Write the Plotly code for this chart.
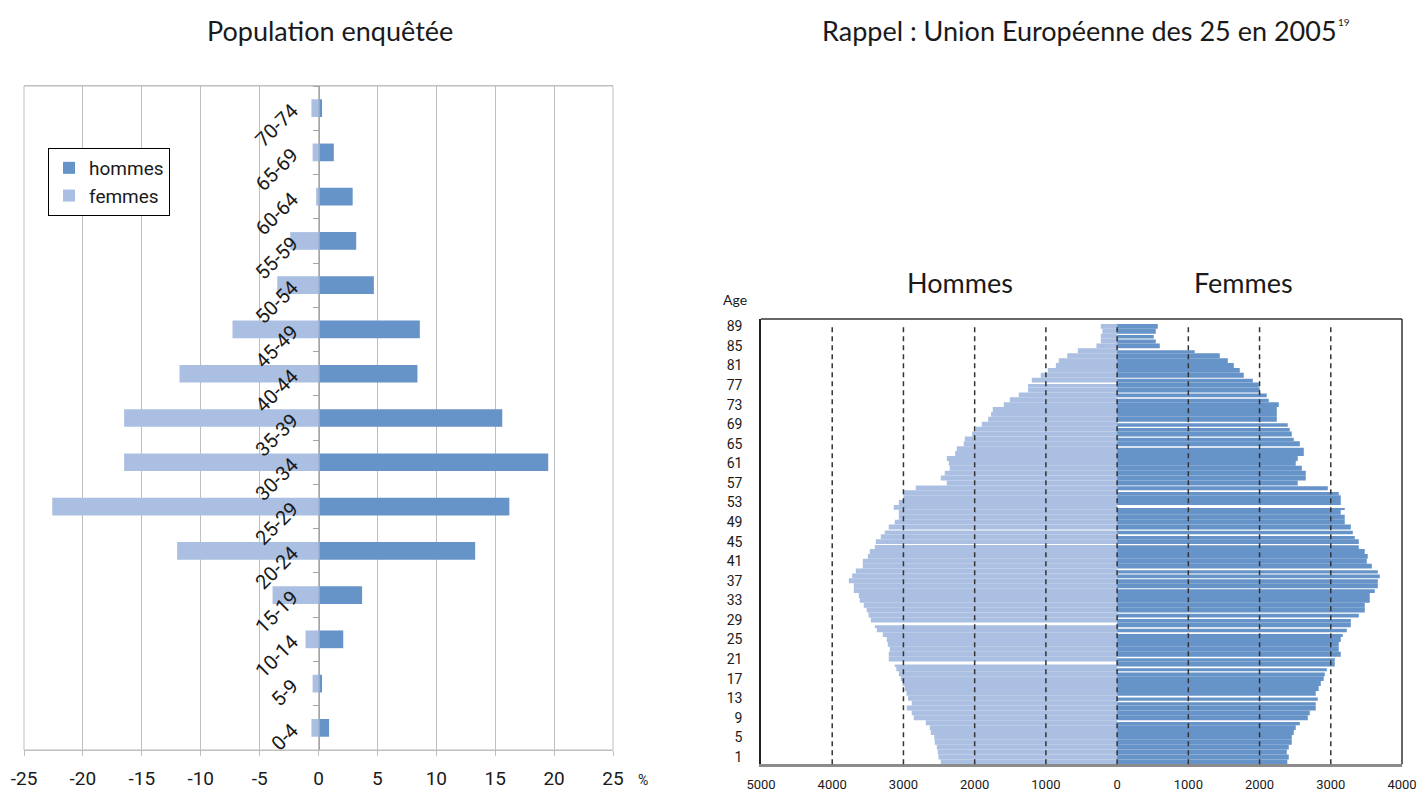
import plotly.graph_objects as go

W, H = 1420, 791

# ---------------------------------------------------------------------------
# Population enquêtée : share of respondents (%) by five-year age group
# ---------------------------------------------------------------------------
age_groups = ["0-4", "5-9", "10-14", "15-19", "20-24", "25-29", "30-34",
              "35-39", "40-44", "45-49", "50-54", "55-59", "60-64", "65-69", "70-74"]
hommes_pct = [0.9, 0.3, 2.1, 3.7, 13.3, 16.2, 19.5, 15.6, 8.4, 8.6, 4.7, 3.2, 2.9, 1.3, 0.3]
femmes_pct = [0.6, 0.5, 1.1, 3.9, 12.0, 22.6, 16.5, 16.5, 11.8, 7.3, 3.5, 2.4, 0.2, 0.5, 0.6]
pct_ticks = [-25, -20, -15, -10, -5, 0, 5, 10, 15, 20, 25]

# ---------------------------------------------------------------------------
# Union Européenne des 25 en 2005 : population (thousands) by single year of age
# ---------------------------------------------------------------------------
ages = list(range(90))
hommes_ue = [
    2476, 2508, 2518, 2532, 2560, 2567, 2616, 2630, 2686, 2855,   # 0-9
    2883, 2953, 2883, 2934, 2958, 2981, 3014, 3037, 3065, 3100,   # 10-19
    3122, 3206, 3206, 3192, 3220, 3234, 3290, 3374, 3402, 3458,   # 20-29
    3490, 3515, 3557, 3613, 3627, 3697, 3697, 3767, 3720, 3669,   # 30-39
    3571, 3571, 3500, 3473, 3402, 3388, 3318, 3262, 3206, 3122,   # 40-49
    3065, 3065, 3136, 3065, 3000, 3000, 2827, 2391, 2476, 2420,   # 50-59
    2350, 2363, 2391, 2274, 2251, 2153, 2139, 2036, 1984, 1900,   # 60-69
    1811, 1770, 1746, 1591, 1507, 1381, 1250, 1250, 1198, 1072,   # 70-79
    973, 860, 819, 700, 552, 290, 229, 229, 206, 229,             # 80-89
]
femmes_ue = [
    2390, 2410, 2382, 2410, 2452, 2452, 2480, 2508, 2565, 2677,   # 0-9
    2705, 2789, 2789, 2817, 2789, 2830, 2860, 2900, 2916, 2944,   # 10-19
    3056, 3056, 3140, 3112, 3112, 3140, 3168, 3225, 3281, 3281,   # 20-29
    3393, 3477, 3477, 3547, 3547, 3618, 3660, 3660, 3688, 3660,   # 30-39
    3576, 3505, 3519, 3477, 3393, 3393, 3337, 3309, 3281, 3196,   # 40-49
    3196, 3140, 3196, 3140, 3140, 3112, 2958, 2536, 2649, 2649,   # 50-59
    2593, 2508, 2536, 2621, 2621, 2565, 2480, 2452, 2424, 2396,   # 60-69
    2242, 2242, 2242, 2270, 2129, 2101, 2003, 1989, 1905, 1778,   # 70-79
    1722, 1638, 1554, 1441, 1090, 599, 543, 515, 543, 571,        # 80-89
]
# thin white seams printed between some single-year bars (age -> fraction of the row left blank on top)
hommes_seams = {77: 0.3, 47: 0.2, 44: 0.2, 28: 0.6, 20: 0.6}
femmes_seams = {87: 0.25, 86: 0.2, 84: 0.4, 78: 0.2, 75: 0.2, 74: 0.3, 69: 0.3, 68: 0.3,
                66: 0.25, 64: 0.3, 56: 0.2, 55: 0.35, 52: 0.6, 47: 0.25, 46: 0.35, 44: 0.25,
                39: 0.35, 38: 0.2, 37: 0.2, 35: 0.25, 30: 0.25, 29: 0.3, 27: 0.3, 26: 0.35,
                21: 0.35, 19: 0.35, 18: 0.25, 13: 0.35, 12: 0.3, 8: 0.35}
age_ticks = list(range(1, 90, 4))
ue_ticks = [-5000, -4000, -3000, -2000, -1000, 0, 1000, 2000, 3000, 4000]
ue_grid = [-4000, -3000, -2000, -1000, 0, 1000, 2000, 3000]

DARK = "#6693C8"
LIGHT = "#AABFE1"
GRID = "#BFBFBF"
TXT = "#1a1a1a"
NUM_FONT = "Roboto"
TITLE_FONT = "Lato"


def px_x(p):
    return p / W


def px_y(p):
    return 1 - p / H


fig = go.Figure()

# left pyramid
fig.add_trace(go.Bar(
    y=age_groups, x=hommes_pct, orientation="h", name="hommes",
    marker=dict(color=DARK, line=dict(width=0)), width=0.4,
    xaxis="x", yaxis="y"))
fig.add_trace(go.Bar(
    y=age_groups, x=[-v for v in femmes_pct], orientation="h", name="femmes",
    marker=dict(color=LIGHT, line=dict(width=0)), width=0.4,
    xaxis="x", yaxis="y"))

# right pyramid
fig.add_trace(go.Bar(
    y=ages, x=[-v for v in hommes_ue], orientation="h", showlegend=False,
    width=[1 - hommes_seams.get(a, 0) for a in ages], offset=-0.5,
    marker=dict(color=LIGHT, line=dict(width=0)),
    xaxis="x2", yaxis="y2"))
fig.add_trace(go.Bar(
    y=ages, x=femmes_ue, orientation="h", showlegend=False,
    width=[1 - femmes_seams.get(a, 0) for a in ages], offset=-0.5,
    marker=dict(color=DARK, line=dict(width=0)),
    xaxis="x2", yaxis="y2"))

left_dom = [px_x(24), px_x(613)]
right_dom = [px_x(761), px_x(1402)]

shapes = []
# frame of the left chart
shapes.append(dict(type="rect", xref="x domain", yref="y domain", x0=0, x1=1, y0=0, y1=1,
                   line=dict(color=GRID, width=1), layer="below"))
# dashed vertical guides on the right chart, drawn over the bars
for g in ue_grid:
    shapes.append(dict(type="line", xref="x2", yref="y2 domain", x0=g, x1=g, y0=0, y1=0.99,
                       line=dict(color="#333333", width=1.5, dash="5px,4px"), layer="above"))
# frame of the right chart (top and right sides)
shapes.append(dict(type="line", xref="x2 domain", yref="y2 domain", x0=0, x1=1, y0=1, y1=1,
                   line=dict(color="#333333", width=1.5), layer="above"))
shapes.append(dict(type="line", xref="x2 domain", yref="y2 domain", x0=1, x1=1, y0=0, y1=1,
                   line=dict(color="#333333", width=1.5), layer="above"))

annotations = [
    dict(text="Population enquêtée", x=px_x(330), y=px_y(30), xref="paper", yref="paper",
         showarrow=False, xanchor="center", yanchor="middle",
         font=dict(family=TITLE_FONT, size=27, color=TXT)),
    dict(text="Rappel : Union Européenne des 25 en 2005", x=px_x(820), y=px_y(30),
         xref="paper", yref="paper", showarrow=False, xanchor="left", yanchor="middle",
         font=dict(family=TITLE_FONT, size=27, color=TXT)),
    dict(text="19", x=px_x(1336), y=px_y(22), xref="paper", yref="paper",
         showarrow=False, xanchor="left", yanchor="middle",
         font=dict(family=TITLE_FONT, size=10, color=TXT)),
    dict(text="Hommes", x=px_x(960), y=px_y(283), xref="paper", yref="paper",
         showarrow=False, xanchor="center", yanchor="middle",
         font=dict(family=TITLE_FONT, size=27, color=TXT)),
    dict(text="Femmes", x=px_x(1243), y=px_y(283), xref="paper", yref="paper",
         showarrow=False, xanchor="center", yanchor="middle",
         font=dict(family=TITLE_FONT, size=27, color=TXT)),
    dict(text="Age", x=px_x(735), y=px_y(299), xref="paper", yref="paper",
         showarrow=False, xanchor="center", yanchor="middle",
         font=dict(family=TITLE_FONT, size=14, color=TXT)),
    dict(text="%", x=px_x(643), y=px_y(780), xref="paper", yref="paper",
         showarrow=False, xanchor="center", yanchor="middle",
         font=dict(family=NUM_FONT, size=14, color=TXT)),
]

fig.update_layout(
    width=W, height=H,
    margin=dict(l=0, r=0, t=0, b=0),
    paper_bgcolor="white", plot_bgcolor="white",
    template="none",
    barmode="overlay",
    showlegend=True,
    legend=dict(x=px_x(48), y=px_y(148), xanchor="left", yanchor="top",
                bordercolor="#000000", borderwidth=1, bgcolor="white",
                font=dict(family=NUM_FONT, size=19, color=TXT),
                traceorder="normal", itemclick=False),
    xaxis=dict(domain=left_dom, anchor="y", range=[-25, 25],
               tickvals=pct_ticks, ticktext=[str(t) for t in pct_ticks],
               showgrid=True, gridcolor=GRID, gridwidth=1,
               showline=True, linecolor=GRID, linewidth=1, mirror=True,
               ticks="outside", ticklen=5, tickcolor=GRID,
               zeroline=False, automargin=False, ticklabelstandoff=6,
               tickfont=dict(family=NUM_FONT, size=19, color=TXT)),
    yaxis=dict(domain=[px_y(750), px_y(86)], anchor="free",
               position=px_x((24 + 613) / 2),
               type="category", categoryorder="array", categoryarray=age_groups,
               range=[-0.5, len(age_groups) - 0.5],
               showline=True, linecolor="#A6A6A6", linewidth=1,
               ticks="outside", ticklen=6, tickcolor="#A6A6A6", tickson="boundaries",
               tickangle=-45, showgrid=False, zeroline=False, automargin=False,
               ticklabelstandoff=22,
               tickfont=dict(family=NUM_FONT, size=20, color=TXT)),
    xaxis2=dict(domain=right_dom, anchor="y2", range=[-5000, 4000],
                tickvals=ue_ticks, ticktext=[str(abs(t)) for t in ue_ticks],
                showgrid=False, showline=True, linecolor="#8C8C8C", linewidth=2.5,
                ticks="", zeroline=False, automargin=False, ticklabelstandoff=6,
                tickfont=dict(family=NUM_FONT, size=13, color=TXT)),
    yaxis2=dict(domain=[px_y(764.3), px_y(319)], anchor="x2", range=[-0.5, 90.5],
                tickvals=age_ticks, ticktext=[str(t) for t in age_ticks],
                showgrid=False, showline=True, linecolor="#222222", linewidth=1.5,
                ticks="", zeroline=False, automargin=False, ticklabelstandoff=14,
                tickfont=dict(family=NUM_FONT, size=14, color=TXT)),
    shapes=shapes,
    annotations=annotations,
)

fig.write_html("out.html")
